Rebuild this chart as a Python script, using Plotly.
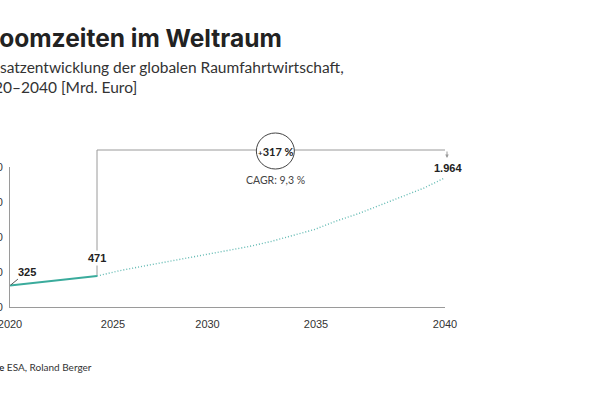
import plotly.graph_objects as go

# ---- data ----
years_actual = [2020, 2021, 2022, 2023, 2024]
values_actual = [325, 360, 392, 428, 471]
years_forecast = [2024, 2025, 2026, 2027, 2028, 2029, 2030, 2031, 2032, 2033,
                  2034, 2035, 2036, 2037, 2038, 2039, 2040]
values_forecast = [471, 549, 613, 675, 737, 801, 859, 920, 996, 1087,
                   1178, 1307, 1417, 1546, 1675, 1804, 1964]
x_tick_labels = ["2020", "2025", "2030", "2035", "2040"]
y_tick_labels = ["0", "500", "1.000", "1.500", "2.000"]
growth_label = "+317 %"
cagr_label = "CAGR: 9,3 %"

# ---- layout geometry (pixels) ----
W, H = 600, 399
PL, PR, PT, PB = 10, 445, 167, 307
X0, X1 = 2020, 2040
Y_PER_PX = 15.2
Y_TOP = (PB - PT) * Y_PER_PX
TICK_PX_X = [10, 113, 207.5, 316, 445]


def year_at(xpx):
    return X0 + (xpx - PL) / (PR - PL) * (X1 - X0)


def paper_x(xpx):
    return (xpx - PL) / (PR - PL)


def paper_y(ypx):
    return (PB - ypx) / (PB - PT)


tickvals_x = [min(X1, max(X0, year_at(p))) for p in TICK_PX_X]
tickvals_y = [i * 35 * Y_PER_PX for i in range(len(y_tick_labels))]

TEAL = "#3aab9c"
TEAL_LIGHT = "#62bab3"
GREY = "#9a9a9a"
DARK = "#222222"
FONT = "Lato"
TITLE_FONT = "Inter"

fig = go.Figure()
fig.add_trace(go.Scatter(x=years_actual, y=values_actual, mode="lines",
                         line=dict(color=TEAL, width=2), hoverinfo="skip"))
fig.add_trace(go.Scatter(x=years_forecast, y=values_forecast, mode="lines",
                         line=dict(color=TEAL_LIGHT, width=1.4, dash="1px,2px"),
                         hoverinfo="skip"))

last_year = years_forecast[-1]
split_year = years_actual[-1]
bracket_y = paper_y(150)
mid_year = (split_year + last_year) / 2 + 0.2

shapes = [
    dict(type="line", xref="x", yref="paper", x0=split_year, x1=split_year,
         y0=bracket_y, y1=paper_y(275), line=dict(color=GREY, width=1), layer="below"),
    dict(type="line", xref="x", yref="paper", x0=split_year, x1=last_year,
         y0=bracket_y, y1=bracket_y, line=dict(color=GREY, width=1), layer="below"),
    dict(type="circle", xref="x", yref="paper", xsizemode="pixel", ysizemode="pixel",
         xanchor=mid_year, yanchor=paper_y(151),
         x0=-19, x1=19, y0=-18, y1=18, layer="above",
         line=dict(color="#444444", width=1), fillcolor="white"),
]

annotations = [
    dict(text="<b>Boomzeiten im Weltraum</b>", xref="paper", yref="paper",
         x=paper_x(-19), y=paper_y(38), xanchor="left", yanchor="middle",
         showarrow=False, font=dict(family=TITLE_FONT, size=24.5, color=DARK)),
    dict(text="Umsatzentwicklung der globalen Raumfahrtwirtschaft,<br>2020–2040 [Mrd. Euro]",
         xref="paper", yref="paper", x=paper_x(-26), y=paper_y(77), xanchor="left",
         yanchor="middle", align="left", showarrow=False,
         font=dict(family=FONT, size=15.5, color="#333333")),
    dict(text="<b>Quelle</b> ESA, Roland Berger", xref="paper", yref="paper",
         x=paper_x(-27), y=paper_y(367), xanchor="left", yanchor="middle",
         showarrow=False, font=dict(family=FONT, size=10, color="#333333")),
    dict(text="<b>%d</b>" % values_actual[0], x=years_actual[0], y=values_actual[0],
         xref="x", yref="y", ax=17, ay=-14, showarrow=True, arrowhead=0,
         arrowwidth=1, arrowcolor="#555555", standoff=1,
         font=dict(family="Liberation Sans", size=11, color=DARK)),
    dict(text="<b>%d</b>" % values_actual[-1], x=split_year, y=values_actual[-1],
         xref="x", yref="y", yshift=18, showarrow=False, bgcolor="white",
         borderpad=1, font=dict(family="Liberation Sans", size=11, color=DARK)),
    dict(text="<b>1.964</b>", x=last_year, y=values_forecast[-1],
         xref="x", yref="y", yshift=10, xshift=3, showarrow=False,
         font=dict(family="Liberation Sans", size=11, color=DARK)),
    dict(text="", x=last_year, y=paper_y(158), xref="x", yref="paper",
         ax=0, ay=-8, showarrow=True, arrowhead=2, arrowsize=0.7, arrowwidth=1,
         arrowcolor=GREY, xshift=2),
    dict(text="<b><span style='font-size:8px'>+</span>317 %</b>", x=mid_year,
         y=paper_y(151), xref="x", yref="paper", showarrow=False,
         yanchor="middle", font=dict(family=FONT, size=11, color=DARK)),
    dict(text=cagr_label, x=mid_year, y=paper_y(180),
         xref="x", yref="paper", showarrow=False, yanchor="middle",
         font=dict(family=FONT, size=10.5, color="#444444")),
]

fig.update_layout(
    template="none",
    width=W, height=H,
    margin=dict(l=PL, r=W - PR, t=PT, b=H - PB, pad=0),
    paper_bgcolor="white", plot_bgcolor="white",
    showlegend=False,
    shapes=shapes, annotations=annotations,
    xaxis=dict(range=[X0, X1], tickvals=tickvals_x, ticktext=x_tick_labels,
               showgrid=False, zeroline=False, showline=True, linecolor=GREY,
               linewidth=1, ticks="outside", ticklen=7, tickcolor="rgba(0,0,0,0)",
               ticklabeloverflow="allow",
               tickfont=dict(family="Liberation Sans", size=11, color="#333333"),
               automargin=False, fixedrange=True),
    yaxis=dict(range=[0, Y_TOP], tickvals=tickvals_y, ticktext=y_tick_labels,
               showgrid=False, zeroline=False, showline=True, linecolor=GREY,
               linewidth=1, ticks="outside", ticklen=4, tickcolor="rgba(0,0,0,0)",
               ticklabeloverflow="allow",
               tickfont=dict(family="Liberation Sans", size=11, color="#333333"),
               automargin=False, fixedrange=True),
)

fig.write_html("out.html", config={"displayModeBar": False},
               post_script="document.body.style.margin='0';document.body.style.overflow='hidden';")
